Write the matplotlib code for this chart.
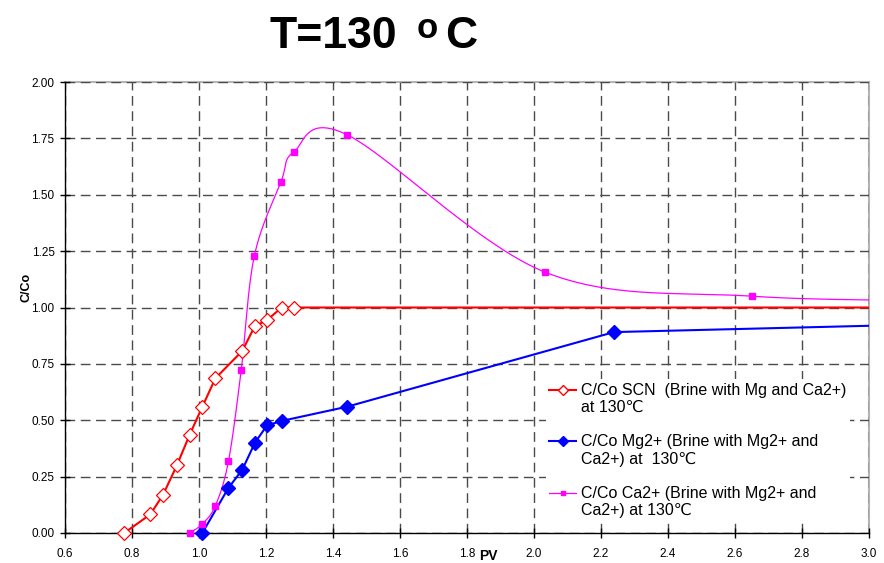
import numpy as np
import matplotlib
matplotlib.use('Agg')
import matplotlib.pyplot as plt
from matplotlib.lines import Line2D
from matplotlib.legend_handler import HandlerLine2D
from matplotlib.transforms import Affine2D

plt.rcParams['font.family'] = ['Liberation Sans', 'DejaVu Sans']

# data (last point of each series lies past the x range)
pv_scn = [0.777, 0.855, 0.893, 0.934, 0.972, 1.010, 1.049, 1.129, 1.167, 1.203, 1.247, 1.284, 3.3]
c_scn = [0.0, 0.083, 0.17, 0.30, 0.435, 0.56, 0.686, 0.807, 0.918, 0.944, 1.0, 1.0, 1.0]

pv_mg = [1.010, 1.088, 1.129, 1.167, 1.203, 1.247, 1.442, 2.239, 3.3]
c_mg = [0.0, 0.20, 0.28, 0.40, 0.477, 0.497, 0.56, 0.891, 0.93]

pv_ca = [0.972, 1.010, 1.049, 1.088, 1.126, 1.165, 1.245, 1.283, 1.441, 2.033, 2.652, 3.3]
c_ca = [0.0, 0.04, 0.121, 0.318, 0.721, 1.227, 1.558, 1.690, 1.767, 1.157, 1.05, 1.03]

labels = ['C/Co SCN  (Brine with Mg and Ca2+)\nat 130\u2103',
          'C/Co Mg2+ (Brine with Mg2+ and\nCa2+) at  130\u2103',
          'C/Co Ca2+ (Brine with Mg2+ and\nCa2+) at 130\u2103']


def smooth(xs, ys, n=40):
    # bezier smoothing like a spreadsheet "smoothed line"
    p = np.column_stack([xs, ys]).astype(float)
    p = np.vstack([p[0], p, p[-1]])
    out = []
    t = np.linspace(0, 1, n)[:, None]
    for i in range(1, len(p) - 2):
        p0, p1, p2, p3 = p[i - 1], p[i], p[i + 1], p[i + 2]
        c1 = p1 + (p2 - p0) / 6
        c2 = p2 - (p3 - p1) / 6
        seg = ((1 - t) ** 3) * p1 + 3 * ((1 - t) ** 2) * t * c1 + 3 * (1 - t) * t ** 2 * c2 + t ** 3 * p2
        out.append(seg)
    out = np.vstack(out)
    return out[:, 0], out[:, 1]


fig = plt.figure(figsize=(8.84, 5.63), dpi=100)
ax = fig.add_axes([0.0735, 0.0533, 0.9095, 0.801])

red = '#ff0000'
blue = '#0000ff'
mag = '#ff00ff'

ax.plot(pv_scn, c_scn, color=red, lw=1.5, zorder=3)
ax.plot(pv_mg, c_mg, color=blue, lw=1.5, zorder=3)
sx, sy = smooth(pv_ca, c_ca)
ax.plot(sx, sy, color=mag, lw=0.9, zorder=3)

x1, y1 = np.array(pv_scn), np.array(c_scn)
m = x1 <= 3.0
ax.plot(x1[m], y1[m], ls='none', marker='D', ms=6.8, mfc='white', mec=red, mew=0.9, clip_on=False, zorder=4)
x2, y2 = np.array(pv_mg), np.array(c_mg)
m = x2 <= 3.0
ax.plot(x2[m], y2[m], ls='none', marker='D', ms=7, mfc=blue, mec=blue, clip_on=False, zorder=4)
x3, y3 = np.array(pv_ca), np.array(c_ca)
m = x3 <= 3.0
ax.plot(x3[m], y3[m], ls='none', marker='s', ms=3.8, mfc=mag, mec=mag, clip_on=False, zorder=4)

ax.set_xlim(0.6, 3.0)
ax.set_ylim(0, 2.0)
ax.set_xticks(np.arange(0.6, 3.01, 0.2))
ax.set_yticks(np.arange(0, 2.01, 0.25))
ax.xaxis.set_major_formatter(matplotlib.ticker.FormatStrFormatter('%.1f'))
ax.yaxis.set_major_formatter(matplotlib.ticker.FormatStrFormatter('%.2f'))
ax.tick_params(direction='inout', length=7, width=1, labelsize=8.5, colors='black')
ax.tick_params(axis='x', pad=7)
ax.tick_params(axis='y', pad=4)

ax.grid(True, color='#4a4a4a', lw=1.0, ls=(0, (7, 4)))
ax.set_axisbelow(True)
for s in ['top', 'right']:
    ax.spines[s].set_color('#b5b5b5')
    ax.spines[s].set_linewidth(1.5)
    ax.spines[s].set_zorder(0.3)
for s in ['left', 'bottom']:
    ax.spines[s].set_color('black')
    ax.spines[s].set_linewidth(1.0)

ax.set_ylabel('C/Co', fontsize=9, fontweight='bold')
ax.yaxis.set_label_coords(-0.041, 0.545)
ax.set_xlabel('PV', fontsize=10, fontweight='bold')
ax.xaxis.set_label_coords(0.526, -0.036)


class FirstLineHandler(HandlerLine2D):
    def create_artists(self, legend, orig_handle, xdescent, ydescent, width, height, fontsize, trans):
        arts = super().create_artists(legend, orig_handle, xdescent, ydescent, width, height, fontsize, trans)
        shift = Affine2D().translate(0, 0.6 * fontsize)
        for a in arts:
            a.set_transform(shift + trans)
        return arts


handles = [
    Line2D([], [], color=red, lw=1.5, marker='D', ms=5.5, mfc='white', mec=red),
    Line2D([], [], color=blue, lw=1.5, marker='D', ms=5.5, mfc=blue, mec=blue),
    Line2D([], [], color=mag, lw=0.9, marker='s', ms=3.5, mfc=mag, mec=mag),
]
leg = ax.legend(handles, labels, loc='lower right', bbox_to_anchor=(0.986, 0.008),
                fontsize=11.5, frameon=True, fancybox=False, framealpha=1,
                edgecolor='none', facecolor='white', handlelength=1.7,
                handletextpad=0.3, labelspacing=1.2, borderpad=0.2,
                handler_map={Line2D: FirstLineHandler()})
leg.set_zorder(5)

# title built from three pieces so the small raised "o" matches
fig.text(270 / 884, 1 - 48 / 563, 'T=130', fontsize=32, fontweight='bold', ha='left', va='baseline')
fig.text(417 / 884, 1 - 38 / 563, 'o', fontsize=25, fontweight='bold', ha='left', va='baseline')
fig.text(445 / 884, 1 - 48 / 563, 'C', fontsize=32, fontweight='bold', ha='left', va='baseline')

fig.savefig('out.png', dpi=100)
